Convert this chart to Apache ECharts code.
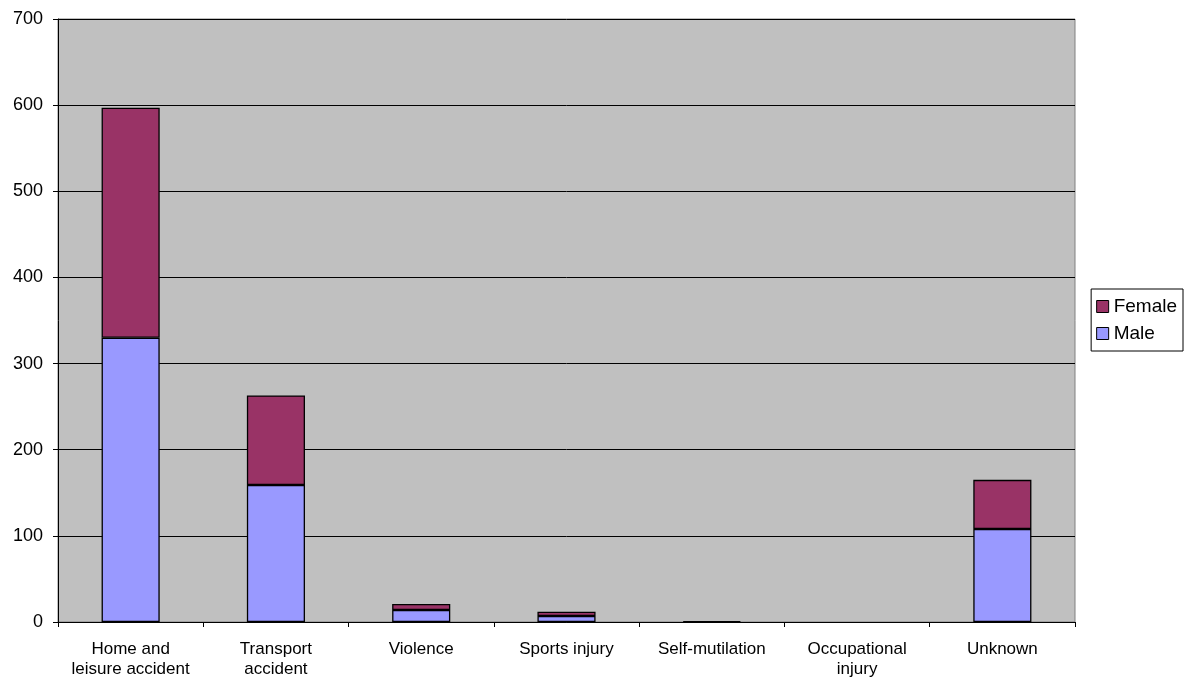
<!DOCTYPE html>
<html><head><meta charset="utf-8">
<script src="https://cdn.jsdelivr.net/npm/echarts@6/dist/echarts.min.js"></script>
<style>html,body{margin:0;padding:0;background:#fff}#c{width:1188px;height:685px}</style>
</head><body><div id="c"></div>
<script>
const categories = ["Home and\nleisure accident","Transport\naccident","Violence","Sports injury","Self-mutilation","Occupational\ninjury","Unknown"];
const male = [330, 159, 14, 7, 1, 0, 108];
const female = [267, 104, 7, 5, 0, 0, 57];
const yTicks = [0,100,200,300,400,500,600,700];

const nz = arr => arr.map(v => v === 0 ? null : v);
const chart = echarts.init(document.getElementById('c'));
const font = 'Liberation Sans, Arial, sans-serif';
chart.setOption({
  backgroundColor:'#ffffff',
  animation:false,
  grid:{left:58,right:113,top:19,bottom:63,show:true,backgroundColor:'#C0C0C0',borderColor:'#808080',borderWidth:1},
  legend:{
    orient:'vertical', right:5, top:289,
    data:['Female','Male'],
    icon:'rect', itemWidth:12, itemHeight:12, itemGap:8,
    borderColor:'#000', borderWidth:1, padding:[8,6,8,5],
    textStyle:{fontFamily:font,fontSize:19,color:'#000',padding:[0,0,0,0]},
    itemStyle:{borderColor:'#000',borderWidth:1}
  },
  xAxis:{
    type:'category', data:categories,
    axisLine:{lineStyle:{color:'#000',width:1}},
    axisTick:{show:true,alignWithLabel:false,length:5,lineStyle:{color:'#000'}},
    axisLabel:{fontFamily:font,fontSize:17,color:'#000',margin:17,lineHeight:20,interval:0}
  },
  yAxis:{
    type:'value', min:0, max:700, interval:100,
    axisLine:{show:true,lineStyle:{color:'#000',width:1}},
    axisTick:{show:true,length:5,lineStyle:{color:'#000'}},
    splitLine:{show:true,lineStyle:{color:'#000',width:1}},
    axisLabel:{fontFamily:font,fontSize:18,color:'#000',margin:15,
      formatter:function(v){return yTicks.indexOf(v)>=0?String(v):'';}}
  },
  series:[
    {name:'Male',type:'bar',stack:'s',data:nz(male),barWidth:'40%',
     itemStyle:{color:'#9999FF',borderColor:'#000',borderWidth:1.3}},
    {name:'Female',type:'bar',stack:'s',data:nz(female),barWidth:'40%',
     itemStyle:{color:'#993366',borderColor:'#000',borderWidth:1.3}}
  ]
});
</script></body></html>
